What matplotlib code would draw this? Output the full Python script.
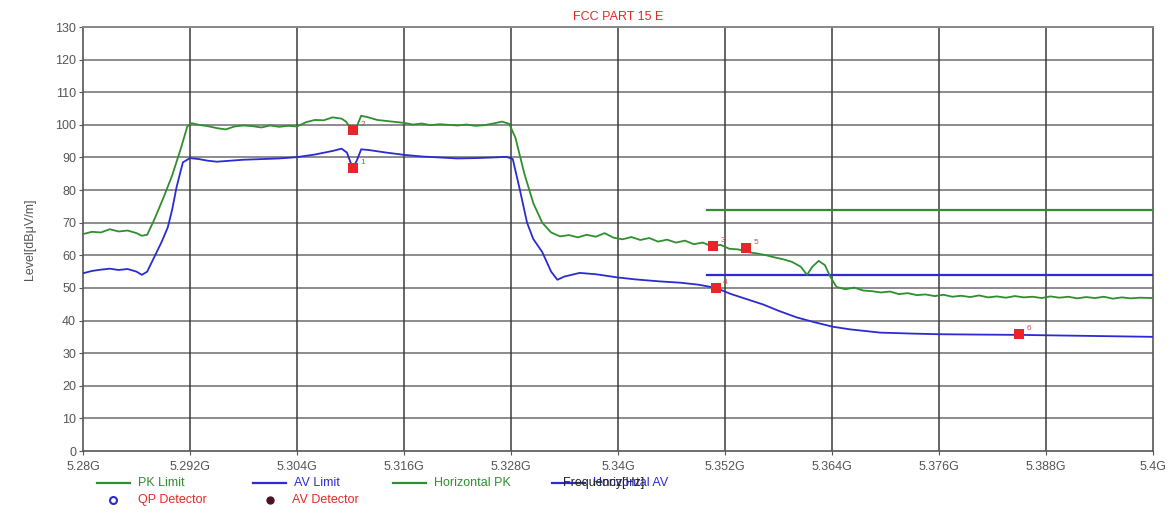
import matplotlib
matplotlib.use("Agg")
import matplotlib.pyplot as plt
from matplotlib.lines import Line2D
import numpy as np

# ---------------- data ----------------
pk_freq = [5.2800, 5.2810, 5.2820, 5.2830, 5.2840, 5.2850, 5.2860, 5.2866, 5.2872, 5.2880,
           5.2890, 5.2900, 5.2910, 5.2917, 5.2922, 5.2930, 5.2940, 5.2950, 5.2960, 5.2970,
           5.2980, 5.2990, 5.3000, 5.3010, 5.3020, 5.3030, 5.3040, 5.3050, 5.3060, 5.3070,
           5.3080, 5.3090, 5.3095, 5.3100, 5.3103, 5.3107, 5.3112, 5.3120, 5.3130, 5.3140,
           5.3150, 5.3160, 5.3170, 5.3180, 5.3190, 5.3200, 5.3210, 5.3220, 5.3230, 5.3240,
           5.3250, 5.3260, 5.3270, 5.3278, 5.3285, 5.3295, 5.3305, 5.3315, 5.3325, 5.3335,
           5.3345, 5.3355, 5.3365, 5.3375, 5.3385, 5.3395, 5.3405, 5.3415, 5.3425, 5.3435,
           5.3445, 5.3455, 5.3465, 5.3475, 5.3485, 5.3495, 5.3505, 5.3515, 5.3525, 5.3535,
           5.3545, 5.3555, 5.3565, 5.3575, 5.3585, 5.3595, 5.3605, 5.3612, 5.3618, 5.3625,
           5.3632, 5.3638, 5.3645, 5.3655, 5.3665, 5.3675, 5.3685, 5.3695, 5.3705, 5.3715,
           5.3725, 5.3735, 5.3745, 5.3755, 5.3765, 5.3775, 5.3785, 5.3795, 5.3805, 5.3815,
           5.3825, 5.3835, 5.3845, 5.3855, 5.3865, 5.3875, 5.3885, 5.3895, 5.3905, 5.3915,
           5.3925, 5.3935, 5.3945, 5.3955, 5.3965, 5.3975, 5.3985, 5.4000]
pk_level = [66.5, 67.2, 67.0, 68.0, 67.3, 67.6, 66.8, 66.0, 66.3, 71.0,
            77.5, 84.5, 93.0, 99.5, 100.5, 100.0, 99.6, 99.0, 98.6, 99.5,
            99.8, 99.6, 99.2, 99.8, 99.4, 99.7, 99.5, 100.8, 101.5, 101.4,
            102.3, 101.9, 101.0, 99.0, 98.4, 99.5, 102.8, 102.3, 101.5, 101.2,
            100.9, 100.6, 100.1, 100.4, 99.9, 100.2, 100.0, 99.8, 100.1, 99.7,
            99.9, 100.4, 101.0, 100.3, 96.0, 85.0, 76.0, 70.0, 67.0, 65.8,
            66.2, 65.5, 66.3, 65.7, 66.8, 65.4, 64.9, 65.6, 64.7, 65.3,
            64.2, 64.8, 63.9, 64.5, 63.4, 63.9, 62.8, 63.2, 62.0, 61.8,
            61.0, 60.6, 60.1, 59.4, 58.8, 58.0, 56.5, 54.0, 56.5, 58.3,
            57.0, 53.5, 50.3, 49.6, 50.1, 49.2, 49.0, 48.6, 48.9, 48.1,
            48.4, 47.8, 48.0, 47.5, 47.9, 47.3, 47.6, 47.2, 47.7, 47.1,
            47.4, 47.0, 47.5, 47.1, 47.3, 46.9, 47.4, 47.0, 47.3, 46.8,
            47.2, 46.9, 47.3, 46.7, 47.1, 46.8, 47.0, 46.9]

av_freq = [5.2800, 5.2810, 5.2820, 5.2830, 5.2840, 5.2850, 5.2860, 5.2866, 5.2872, 5.2880,
           5.2888, 5.2895, 5.2900, 5.2905, 5.2912, 5.2920, 5.2930, 5.2940, 5.2950, 5.2960,
           5.2980, 5.3000, 5.3020, 5.3040, 5.3060, 5.3080, 5.3090, 5.3096, 5.3100, 5.3103,
           5.3107, 5.3112, 5.3120, 5.3140, 5.3160, 5.3180, 5.3200, 5.3220, 5.3240, 5.3260,
           5.3275, 5.3282, 5.3290, 5.3298, 5.3305, 5.3315, 5.3325, 5.3332, 5.3340, 5.3357,
           5.3375, 5.3400, 5.3420, 5.3447, 5.3470, 5.3490, 5.3510, 5.3526, 5.3545, 5.3563,
           5.3580, 5.3600, 5.3620, 5.3641, 5.3660, 5.3694, 5.3730, 5.3760, 5.3800, 5.3850,
           5.3900, 5.3950, 5.4000]
av_level = [54.5, 55.2, 55.6, 55.9, 55.5, 55.8, 55.0, 54.0, 55.0, 59.5,
            64.0, 68.5, 74.0, 81.0, 88.5, 89.8, 89.5, 89.0, 88.7, 88.9,
            89.3, 89.5, 89.7, 90.1, 90.9, 92.0, 92.7, 91.5, 88.5, 87.0,
            89.0, 92.5, 92.3, 91.5, 90.8, 90.3, 90.0, 89.7, 89.8, 90.0,
            90.2, 89.5, 80.0, 70.0, 65.0, 61.0, 55.0, 52.5, 53.5, 54.6,
            54.2, 53.2, 52.6, 52.0, 51.6, 51.0, 50.0, 48.2, 46.5, 44.9,
            43.0, 41.0, 39.5, 38.1, 37.3, 36.3, 36.0, 35.8, 35.7, 35.6,
            35.4, 35.2, 35.0]

limit_freq = [5.350, 5.400]
pk_limit = [74, 74]
av_limit = [54, 54]

marker_freq = [5.3103, 5.3103, 5.3507, 5.3510, 5.3544, 5.3850]
marker_level = [86.8, 98.4, 62.8, 50.0, 62.2, 35.8]
marker_label = ["1", "2", "3", "4", "5", "6"]

x_ticks = [5.280, 5.292, 5.304, 5.316, 5.328, 5.340, 5.352, 5.364, 5.376, 5.388, 5.400]
x_tick_labels = ["5.28G", "5.292G", "5.304G", "5.316G", "5.328G", "5.34G",
                 "5.352G", "5.364G", "5.376G", "5.388G", "5.4G"]
y_ticks = list(range(0, 131, 10))

# ---------------- style ----------------
W, H = 1171, 524
GREEN = "#2f8f2f"
BLUE = "#2b2bd0"
RED = "#e8262a"
TICK_GRAY = "#555555"

plt.rcParams['font.family'] = ['Liberation Sans', 'DejaVu Sans']

fig = plt.figure(figsize=(W / 100, H / 100), dpi=100)
fig.patch.set_facecolor("white")

L, R, T, B = 83, 1153, 27, 451
ax = fig.add_axes([L / W, (H - B) / H, (R - L) / W, (B - T) / H])

ax.set_xlim(5.28, 5.40)
ax.set_ylim(0, 130)
ax.set_xticks(x_ticks)
ax.set_xticklabels(x_tick_labels)
ax.set_yticks(y_ticks)
ax.tick_params(axis='both', colors=TICK_GRAY, labelsize=9, length=3, width=0.8, direction='out')
ax.tick_params(axis='x', pad=4)
ax.tick_params(axis='y', pad=2)

for ytk in y_ticks[1:]:
    ax.axhline(ytk, color="#8c8c8c", lw=1.4, zorder=1)
for xtk in x_ticks[1:-1]:
    ax.axvline(xtk, color="#3c3c3c", lw=1.1, zorder=1)

for side in ['left', 'bottom', 'right']:
    ax.spines[side].set_color("#555555")
    ax.spines[side].set_linewidth(1.2)
ax.spines['top'].set_color("#888888")
ax.spines['top'].set_linewidth(1.4)

# limits
ax.plot(limit_freq, pk_limit, color=GREEN, lw=1.6, zorder=3)
ax.plot(limit_freq, av_limit, color=BLUE, lw=1.6, zorder=3)

# traces
ax.plot(pk_freq, pk_level, color=GREEN, lw=1.3, zorder=4)
ax.plot(av_freq, av_level, color=BLUE, lw=1.3, zorder=4)

# markers
ax.scatter(marker_freq, marker_level, marker='s', s=42, color=RED, zorder=6, linewidths=0)
for f, lv, lab in zip(marker_freq, marker_level, marker_label):
    ax.annotate(lab, (f, lv), xytext=(5, 3), textcoords='offset points',
                fontsize=6, color="#c05050", zorder=7)

ax.set_title("FCC PART 15 E", color=RED, fontsize=9, pad=5)
ax.set_ylabel("Level[dBμV/m]", color=TICK_GRAY, fontsize=9, labelpad=14)

# ---------------- legend (manual, figure pixels) ----------------
def fx(px):
    return px / W

def fy(py):
    return 1 - py / H

row1, row2 = 483, 500
entries = [
    (97, row1, 'line', GREEN, "PK Limit", GREEN),
    (253, row1, 'line', BLUE, "AV Limit", BLUE),
    (393, row1, 'line', GREEN, "Horizontal PK", GREEN),
    (552, row1, 'line', BLUE, "Horizontal AV", BLUE),
]
for x0, y0, kind, hc, label, tc in entries:
    fig.add_artist(Line2D([fx(x0), fx(x0 + 33)], [fy(y0), fy(y0)],
                          transform=fig.transFigure, color=hc, lw=1.6))
    fig.text(fx(x0 + 41), fy(y0), label, color=tc, fontsize=9, va='center', ha='left')

fig.add_artist(Line2D([fx(113)], [fy(row2)], transform=fig.transFigure, marker='o',
                      markersize=5, markerfacecolor='white', markeredgecolor=BLUE,
                      markeredgewidth=1.5, linestyle='none'))
fig.text(fx(138), fy(row2), "QP Detector", color=RED, fontsize=9, va='center', ha='left')
fig.add_artist(Line2D([fx(270)], [fy(row2)], transform=fig.transFigure, marker='o',
                      markersize=5, markerfacecolor="#4a1426", markeredgecolor="#4a1426",
                      linestyle='none'))
fig.text(fx(292), fy(row2), "AV Detector", color=RED, fontsize=9, va='center', ha='left')

# x-axis label (overlaps legend as in the original)
fig.text(fx(563), fy(row1), "Frequency[Hz]", color="#222222", fontsize=9, va='center', ha='left')

fig.savefig("out.png", dpi=100)
